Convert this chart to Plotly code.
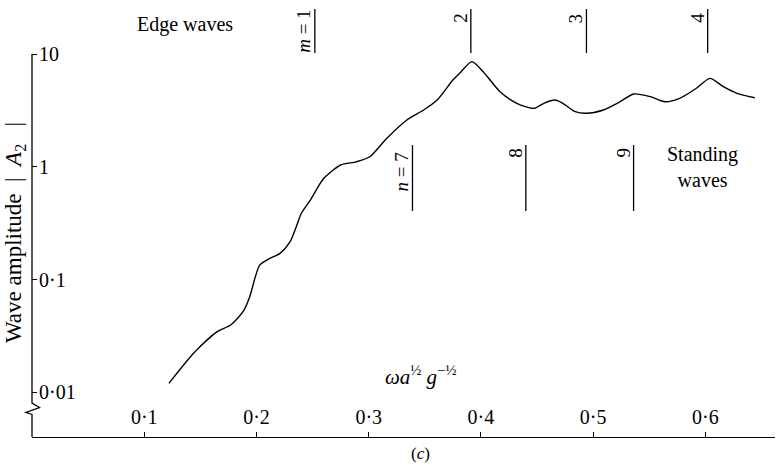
import plotly.graph_objects as go

# ---- data ----
wave_x = [0.122, 0.144, 0.165, 0.177, 0.188, 0.194, 0.199, 0.203, 0.212, 0.221,
          0.230, 0.236, 0.240, 0.248, 0.260, 0.275, 0.289, 0.301, 0.316, 0.334,
          0.349, 0.361, 0.375, 0.381, 0.392, 0.402, 0.417, 0.432, 0.447, 0.456,
          0.466, 0.473, 0.484, 0.494, 0.509, 0.524, 0.536, 0.551, 0.564, 0.577,
          0.592, 0.604, 0.616, 0.628, 0.644]
wave_amp = [0.0120, 0.0222, 0.0345, 0.0395, 0.0519, 0.0705, 0.106, 0.135, 0.154, 0.171,
            0.217, 0.305, 0.388, 0.508, 0.792, 1.04, 1.11, 1.23, 1.79, 2.61,
            3.20, 3.92, 5.90, 6.77, 8.59, 7.00, 4.65, 3.67, 3.31, 3.67,
            3.92, 3.67, 3.09, 2.99, 3.20, 3.79, 4.44, 4.20, 3.79, 4.06,
            4.99, 6.11, 5.15, 4.50, 4.11]

x_tick_vals = [0.1, 0.2, 0.3, 0.4, 0.5, 0.6]
x_tick_text = ["0·1", "0·2", "0·3", "0·4", "0·5", "0·6"]
y_tick_vals = [0.01, 0.1, 1, 10]
y_tick_text = ["0·01", "0·1", "1", "10"]

edge_mode_x = [0.252, 0.391, 0.494, 0.602]
edge_mode_labels = ["<i>m</i> = 1", "2", "3", "4"]
standing_mode_x = [0.339, 0.440, 0.536]
standing_mode_labels = ["<i>n</i> = 7", "8", "9"]

FONT = "Liberation Serif"
W, H = 777, 465
ML, MR, MT, MB = 32, 2, 40, 28
PW, PH = W - ML - MR, H - MT - MB


def px(xp):
    return (xp - ML) / PW


def py(yp):
    return (H - MB - yp) / PH


fig = go.Figure()
fig.add_trace(go.Scatter(
    x=wave_x, y=wave_amp, mode="lines",
    line=dict(color="black", width=1.4, shape="spline", smoothing=0.7),
    showlegend=False, hoverinfo="skip"))

shapes = []
annotations = []

# y-axis line (from the "10" tick down) with break zigzag
zig = [(32, 54), (32, 403), (39.5, 407.5), (26, 412.5), (32, 414.5), (32, H - MB)]
path = "M " + " L ".join(f"{px(a):.4f},{py(b):.4f}" for a, b in zig)
shapes.append(dict(type="path", path=path, xref="paper", yref="paper",
                   line=dict(color="black", width=1.3)))

lab_font = dict(family=FONT, size=19, color="black")

# edge-wave mode markers
for xv, lab in zip(edge_mode_x, edge_mode_labels):
    shapes.append(dict(type="line", xref="x", yref="paper", x0=xv, x1=xv,
                       y0=py(53), y1=py(9), line=dict(color="black", width=1.3)))
    is_m = lab.startswith("<i>")
    annotations.append(dict(text=lab, x=xv, xref="x", xshift=-11,
                            y=py(31 if is_m else 18), yref="paper",
                            xanchor="center", yanchor="middle",
                            textangle=-90, showarrow=False, font=lab_font))

# standing-wave mode markers
for xv, lab in zip(standing_mode_x, standing_mode_labels):
    shapes.append(dict(type="line", xref="x", yref="paper", x0=xv, x1=xv,
                       y0=py(211), y1=py(145), line=dict(color="black", width=1.3)))
    is_n = lab.startswith("<i>")
    annotations.append(dict(text=lab, x=xv, xref="x", xshift=-11,
                            y=py(172 if is_n else 153), yref="paper",
                            xanchor="center", yanchor="middle",
                            textangle=-90, showarrow=False, font=lab_font))

txt = dict(family=FONT, size=20, color="black")


def note(text, x, y, font=txt, angle=0):
    return dict(text=text, x=px(x), y=py(y), xref="paper", yref="paper",
                xanchor="center", yanchor="middle", textangle=angle,
                showarrow=False, font=font)


nb = "\u00a0"
annotations += [
    note("Edge waves", 185, 25),
    note("Standing<br>waves", 702, 167, font=dict(family=FONT, size=20, color="black")),
    note("<i>ωa</i><sup>½</sup>" + nb + "<i>g</i><sup>−½</sup>", 420, 375,
         font=dict(family=FONT, size=21, color="black")),
    note("(<i>c</i>)", 420, 453, font=dict(family=FONT, size=17, color="black")),
    note("Wave amplitude" + nb * 2 + "|" + nb * 2 + "<i>A</i><sub>2</sub>" + nb * 3 + "|",
         15, 233, font=dict(family=FONT, size=23, color="black"), angle=-90),
]

fig.update_layout(
    width=W, height=H,
    margin=dict(l=ML, r=MR, t=MT, b=MB),
    paper_bgcolor="white", plot_bgcolor="white",
    font=dict(family=FONT, size=20, color="black"),
    shapes=shapes, annotations=annotations, showlegend=False,
    xaxis=dict(range=[0, 0.662], tickvals=x_tick_vals, ticktext=x_tick_text,
               ticks="inside", ticklen=5, tickwidth=1, tickcolor="black",
               ticklabelposition="inside", ticklabelstandoff=5,
               showline=True, linecolor="black",
               linewidth=1.3, showgrid=False, zeroline=False,
               tickfont=dict(family=FONT, size=20, color="black")),
    yaxis=dict(type="log", range=[-2.397, 1.1263], tickvals=y_tick_vals,
               ticktext=y_tick_text, ticks="inside", ticklen=5, tickwidth=1,
               tickcolor="black", ticklabelposition="inside",
               ticklabelstandoff=3, showline=False,
               showgrid=False, zeroline=False,
               tickfont=dict(family=FONT, size=20, color="black")),
)

fig.write_html("out.html", config={"displayModeBar": False},
               post_script="document.body.style.margin='0px';")
